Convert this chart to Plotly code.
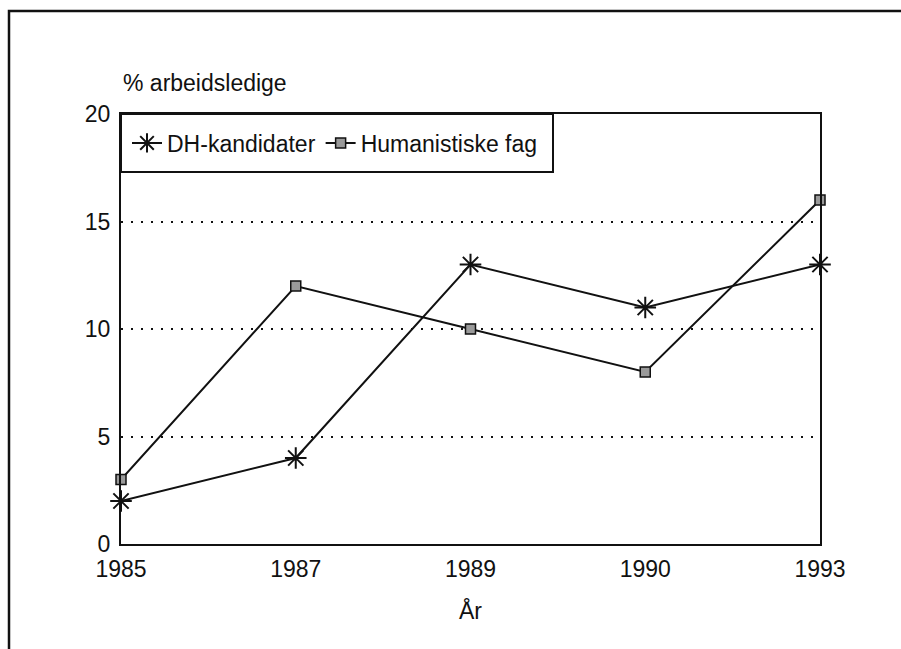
import plotly.graph_objects as go

years = ["1985", "1987", "1989", "1990", "1993"]
dh_kandidater = [2, 4, 13, 11, 13]
humanistiske_fag = [3, 12, 10, 8, 16]
y_ticks = [0, 5, 10, 15, 20]

FONT = "Liberation Sans, Arial, Helvetica, sans-serif"
INK = "#111111"

fig = go.Figure()
fig.add_trace(go.Scatter(
    x=years, y=dh_kandidater, name="DH-kandidater", mode="lines+markers",
    line=dict(color=INK, width=2),
    marker=dict(symbol="asterisk-open", size=18, color=INK, line=dict(width=2, color=INK)),
    cliponaxis=False,
))
fig.add_trace(go.Scatter(
    x=years, y=humanistiske_fag, name="Humanistiske fag", mode="lines+markers",
    line=dict(color=INK, width=2),
    marker=dict(symbol="square", size=10, color="#9a9a9a", line=dict(width=1.5, color=INK)),
    cliponaxis=False,
))

W, H = 901, 649
L, R, T, B = 121, 81, 114, 105
pw, ph = W - L - R, H - T - B

def px_x(p):
    return (p - L) / pw

def px_y(p):
    return (H - B - p) / ph

fig.update_layout(
    width=W, height=H,
    margin=dict(l=L, r=R, t=T, b=B),
    paper_bgcolor="white", plot_bgcolor="white",
    font=dict(family=FONT, size=23, color=INK),
    showlegend=True,
    legend=dict(
        orientation="h", x=px_x(127), y=px_y(143), xanchor="left", yanchor="middle",
        bgcolor="rgba(0,0,0,0)", borderwidth=0,
        font=dict(size=23), itemwidth=30,
    ),
    xaxis=dict(
        type="category", range=[0, 4],
        showline=True, linecolor=INK, linewidth=2, mirror=True,
        showgrid=False, zeroline=False,
        ticks="outside", ticklen=3, tickcolor="white",
        tickfont=dict(size=23),
        title=dict(text="År", font=dict(size=23), standoff=22),
    ),
    yaxis=dict(
        range=[0, 20], tickvals=y_ticks,
        showline=True, linecolor=INK, linewidth=2, mirror=True,
        showgrid=True, gridcolor=INK, gridwidth=2, griddash="2px,8px",
        zeroline=False,
        ticks="outside", ticklen=4, tickcolor="white",
        tickfont=dict(size=23),
    ),
    annotations=[dict(
        text="% arbeidsledige", xref="paper", yref="paper",
        x=px_x(121), y=px_y(83), xanchor="left", yanchor="middle",
        showarrow=False, font=dict(size=23, color=INK),
    )],
    shapes=[
        dict(
            type="rect", xref="paper", yref="paper",
            x0=px_x(9), x1=px_x(960), y0=px_y(11), y1=px_y(700),
            line=dict(color=INK, width=2.5), layer="below",
        ),
        dict(
            type="rect", xref="paper", yref="paper",
            x0=px_x(121), x1=px_x(553), y0=px_y(114), y1=px_y(172),
            line=dict(color=INK, width=2), fillcolor="white", layer="below",
        ),
    ],
)

fig.write_html(
    "out.html",
    config={"displayModeBar": False},
    post_script="document.body.style.margin='0';",
)
